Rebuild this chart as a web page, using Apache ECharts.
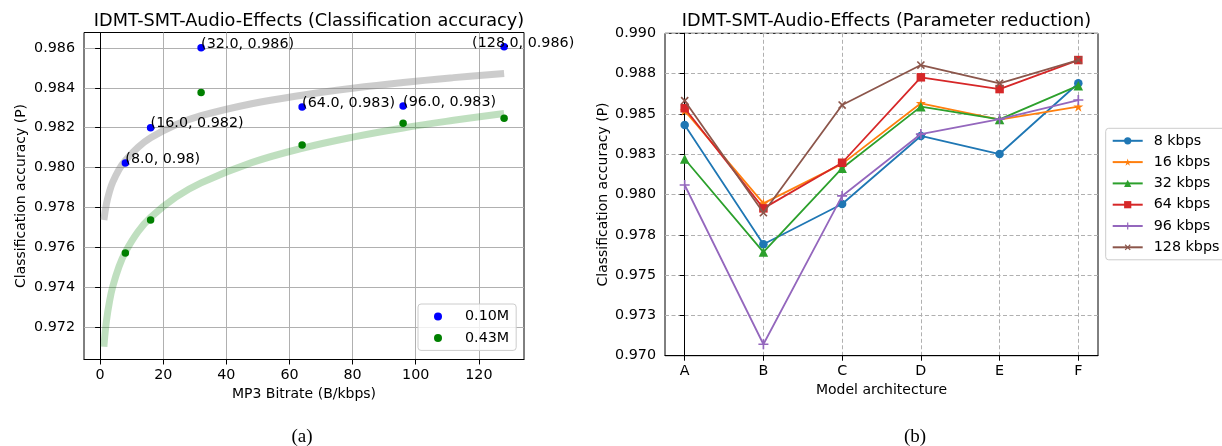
<!DOCTYPE html>
<html>
<head>
<meta charset="utf-8">
<script src="https://cdn.jsdelivr.net/npm/echarts@6/dist/echarts.min.js"></script>
<style>
html,body{margin:0;padding:0;background:#fff;}
#c{width:1222px;height:446px;}
</style>
</head>
<body>
<div id="c"></div>
<script>
// ---------- data: left panel (a) ----------
const bitrates = [8, 16, 32, 64, 96, 128];
const acc010M = [0.98023, 0.98200, 0.98600, 0.98304, 0.98309, 0.98605];
const acc043M = [0.97573, 0.97738, 0.98377, 0.98113, 0.98222, 0.98247];
const pointLabels010M = ['(8.0, 0.98)', '(16.0, 0.982)', '(32.0, 0.986)', '(64.0, 0.983)', '(96.0, 0.983)', '(128.0, 0.986)'];
const fitX = [1.2, 2, 3, 4, 6, 8, 12, 16, 24, 32, 48, 64, 80, 96, 112, 128];
const fit010M = [0.97738, 0.97818, 0.97882, 0.97927, 0.97991, 0.98036, 0.98102, 0.98150, 0.98215, 0.98260, 0.98320, 0.98363, 0.98398, 0.98427, 0.98451, 0.98472];
const fit043M = [0.97103, 0.97231, 0.97332, 0.97404, 0.97505, 0.97577, 0.97679, 0.97751, 0.97852, 0.97924, 0.98025, 0.98097, 0.98153, 0.98199, 0.98237, 0.98271];
const xTicksLeft = [0, 20, 40, 60, 80, 100, 120];
const yTicksLeft = [0.972, 0.974, 0.976, 0.978, 0.980, 0.982, 0.984, 0.986];

// ---------- data: right panel (b) ----------
const architectures = ['A', 'B', 'C', 'D', 'E', 'F'];
const kbps8   = [0.98431, 0.97691, 0.97941, 0.98363, 0.98251, 0.98690];
const kbps16  = [0.98520, 0.97945, 0.98190, 0.98566, 0.98465, 0.98545];
const kbps32  = [0.98220, 0.97643, 0.98163, 0.98545, 0.98466, 0.98675];
const kbps64  = [0.98535, 0.97914, 0.98197, 0.98727, 0.98654, 0.98834];
const kbps96  = [0.98059, 0.97071, 0.97991, 0.98375, 0.98468, 0.98586];
const kbps128 = [0.98582, 0.97887, 0.98555, 0.98803, 0.98690, 0.98834];
const seriesNamesRight = ['8 kbps', '16 kbps', '32 kbps', '64 kbps', '96 kbps', '128 kbps'];
const yTicksRight = [0.9700, 0.9725, 0.9750, 0.9775, 0.9800, 0.9825, 0.9850, 0.9875, 0.9900];
const yTickLabelsRight = ['0.970', '0.973', '0.975', '0.978', '0.980', '0.983', '0.985', '0.988', '0.990'];

// ---------- styling ----------
const FONT = 'DejaVu Sans';
const TXT = '#000';
const GRIDC = '#b0b0b0';
const starPath = 'path://M0,-100L22,-31L95,-31L36,12L59,81L0,38L-59,81L-36,12L-95,-31L-22,-31Z';
const plusPath = 'path://M-1,-6L1,-6L1,-1L6,-1L6,1L1,1L1,6L-1,6L-1,1L-6,1L-6,-1L-1,-1Z';
const rightStyles = [
  {color: '#1f77b4', symbol: 'circle', size: 8.5, rotate: 0},
  {color: '#ff7f0e', symbol: starPath, size: 10, rotate: 0},
  {color: '#2ca02c', symbol: 'triangle', size: 9.5, rotate: 0},
  {color: '#d62728', symbol: 'rect', size: 8.5, rotate: 0},
  {color: '#9467bd', symbol: plusPath, size: 10, rotate: 0},
  {color: '#8c564b', symbol: plusPath, size: 10, rotate: 45}
];
const rightData = [kbps8, kbps16, kbps32, kbps64, kbps96, kbps128];

const axisCommon = {
  axisLine: {show: true, lineStyle: {color: '#000', width: 1}},
  nameTextStyle: {fontFamily: FONT, fontSize: 14, color: TXT}
};

const chart = echarts.init(document.getElementById('c'), null, {renderer: 'canvas'});

const series = [
  {
    type: 'line', xAxisIndex: 0, yAxisIndex: 0, name: 'fit010',
    data: fitX.map((x, i) => [x, fit010M[i]]),
    smooth: 0.4, showSymbol: false, symbol: 'none', silent: true,
    lineStyle: {color: 'rgba(128,128,128,0.4)', width: 7, cap: 'butt'},
    z: 2
  },
  {
    type: 'line', xAxisIndex: 0, yAxisIndex: 0, name: 'fit043',
    data: fitX.map((x, i) => [x, fit043M[i]]),
    smooth: 0.4, showSymbol: false, symbol: 'none', silent: true,
    lineStyle: {color: 'rgba(0,128,0,0.25)', width: 7, cap: 'butt'},
    z: 2
  },
  {
    type: 'scatter', xAxisIndex: 0, yAxisIndex: 0, name: '0.10M',
    symbol: 'circle', symbolSize: 7.5,
    itemStyle: {color: '#0000ff', opacity: 1},
    data: bitrates.map((b, i) => ({
      value: [b, acc010M[i]],
      label: {
        show: true, formatter: pointLabels010M[i],
        position: [3.75, 3.75], align: 'left', verticalAlign: 'bottom',
        offset: i === bitrates.length - 1 ? [-32, 3] : [0, 3],
        fontFamily: FONT, fontSize: 14.3, color: TXT
      }
    })),
    z: 5
  },
  {
    type: 'scatter', xAxisIndex: 0, yAxisIndex: 0, name: '0.43M',
    symbol: 'circle', symbolSize: 7.5,
    itemStyle: {color: '#008000', opacity: 1},
    data: bitrates.map((b, i) => [b, acc043M[i]]),
    z: 5
  }
];
rightData.forEach((arr, k) => {
  const st = rightStyles[k];
  series.push({
    type: 'line', xAxisIndex: 1, yAxisIndex: 1, name: seriesNamesRight[k],
    data: arr.map((v, i) => [i, v]),
    symbol: st.symbol, symbolSize: st.size, symbolRotate: st.rotate,
    showAllSymbol: true,
    lineStyle: {color: st.color, width: 1.8},
    itemStyle: {color: st.color, borderWidth: 0},
    z: 3 + k
  });
});

const option = {
  animation: false,
  backgroundColor: '#fff',
  textStyle: {fontFamily: FONT},
  title: [
    {text: 'IDMT-SMT-Audio-Effects (Classification accuracy)', left: 304, top: 7, textAlign: 'center',
     textStyle: {fontFamily: FONT, fontSize: 17.7, fontWeight: 'normal', color: TXT}},
    {text: 'IDMT-SMT-Audio-Effects (Parameter reduction)', left: 881.5, top: 7, textAlign: 'center',
     textStyle: {fontFamily: FONT, fontSize: 17.7, fontWeight: 'normal', color: TXT}},
    {text: '(a)', left: 297, top: 423, textAlign: 'center',
     textStyle: {fontFamily: 'Liberation Serif', fontSize: 19, fontWeight: 'normal', color: TXT}},
    {text: '(b)', left: 910, top: 423, textAlign: 'center',
     textStyle: {fontFamily: 'Liberation Serif', fontSize: 19, fontWeight: 'normal', color: TXT}}
  ],
  legend: [
    {
      data: ['0.10M', '0.43M'], orient: 'vertical', left: 418, top: 304,
      icon: 'circle', itemWidth: 8, itemHeight: 8, itemGap: 4.4,
      padding: [4, 7, 4, 16],
      backgroundColor: 'rgba(255,255,255,0.8)', borderColor: '#cccccc', borderWidth: 1, borderRadius: 3,
      textStyle: {fontFamily: FONT, fontSize: 14.3, color: TXT, lineHeight: 17, padding: [0, 0, 0, 18]}
    },
    {
      data: seriesNamesRight, orient: 'vertical', left: 1105.7, top: 128.3,
      itemWidth: 30, itemHeight: 9, itemGap: 4.3,
      padding: [4, 6, 4, 6],
      backgroundColor: 'rgba(255,255,255,0.8)', borderColor: '#cccccc', borderWidth: 1, borderRadius: 3,
      textStyle: {fontFamily: FONT, fontSize: 14.3, color: TXT, lineHeight: 17, padding: [0, 0, 0, 6]}
    }
  ],
  grid: [
    {left: 84, top: 32.5, width: 440, height: 327, show: true, borderColor: '#000', borderWidth: 1, backgroundColor: 'transparent'},
    {left: 665, top: 33.3, width: 433, height: 322.4, show: true, borderColor: '#000', borderWidth: 1, backgroundColor: 'transparent'}
  ],
  xAxis: [
    Object.assign({}, axisCommon, {
      gridIndex: 0, type: 'value', min: -5.1, max: 134.3,
      name: 'MP3 Bitrate (B/kbps)', nameLocation: 'middle', nameGap: 25,
      axisTick: {show: true, length: 5, lineStyle: {color: '#000'}, customValues: xTicksLeft},
      axisLabel: {customValues: xTicksLeft, margin: 9, fontFamily: FONT, fontSize: 14.3, color: TXT},
      splitLine: {show: true, lineStyle: {color: GRIDC, width: 1}}
    }),
    Object.assign({}, axisCommon, {
      gridIndex: 1, type: 'value', min: -0.25, max: 5.25,
      name: 'Model architecture', nameLocation: 'middle', nameGap: 26,
      axisTick: {show: true, length: 5, lineStyle: {color: '#000'}, customValues: [0, 1, 2, 3, 4, 5]},
      axisLabel: {customValues: [0, 1, 2, 3, 4, 5], margin: 9, fontFamily: FONT, fontSize: 14.3, color: TXT,
        formatter: v => architectures[Math.round(v)] || ''},
      splitLine: {show: true, lineStyle: {color: GRIDC, width: 1, type: [4, 2.5]}}
    })
  ],
  yAxis: [
    Object.assign({}, axisCommon, {
      gridIndex: 0, type: 'value', min: 0.97039, max: 0.98677,
      name: 'Classification accuracy (P)', nameLocation: 'middle', nameGap: 56,
      axisTick: {show: true, length: 5, lineStyle: {color: '#000'}, customValues: yTicksLeft},
      axisLabel: {customValues: yTicksLeft, margin: 9, fontFamily: FONT, fontSize: 14.3, color: TXT,
        formatter: v => v.toFixed(3)},
      splitLine: {show: true, lineStyle: {color: GRIDC, width: 1}}
    }),
    Object.assign({}, axisCommon, {
      gridIndex: 1, type: 'value', min: 0.970, max: 0.990,
      name: 'Classification accuracy (P)', nameLocation: 'middle', nameGap: 55,
      axisTick: {show: true, length: 5, lineStyle: {color: '#000'}, customValues: yTicksRight},
      axisLabel: {customValues: yTicksRight, margin: 9, fontFamily: FONT, fontSize: 14.3, color: TXT,
        formatter: v => {
          let best = 0;
          yTicksRight.forEach((t, i) => { if (Math.abs(t - v) < Math.abs(yTicksRight[best] - v)) best = i; });
          return yTickLabelsRight[best];
        }},
      splitLine: {show: true, lineStyle: {color: GRIDC, width: 1, type: [4, 2.5]}}
    })
  ],
  series: series
};
chart.setOption(option);
</script>
</body>
</html>
